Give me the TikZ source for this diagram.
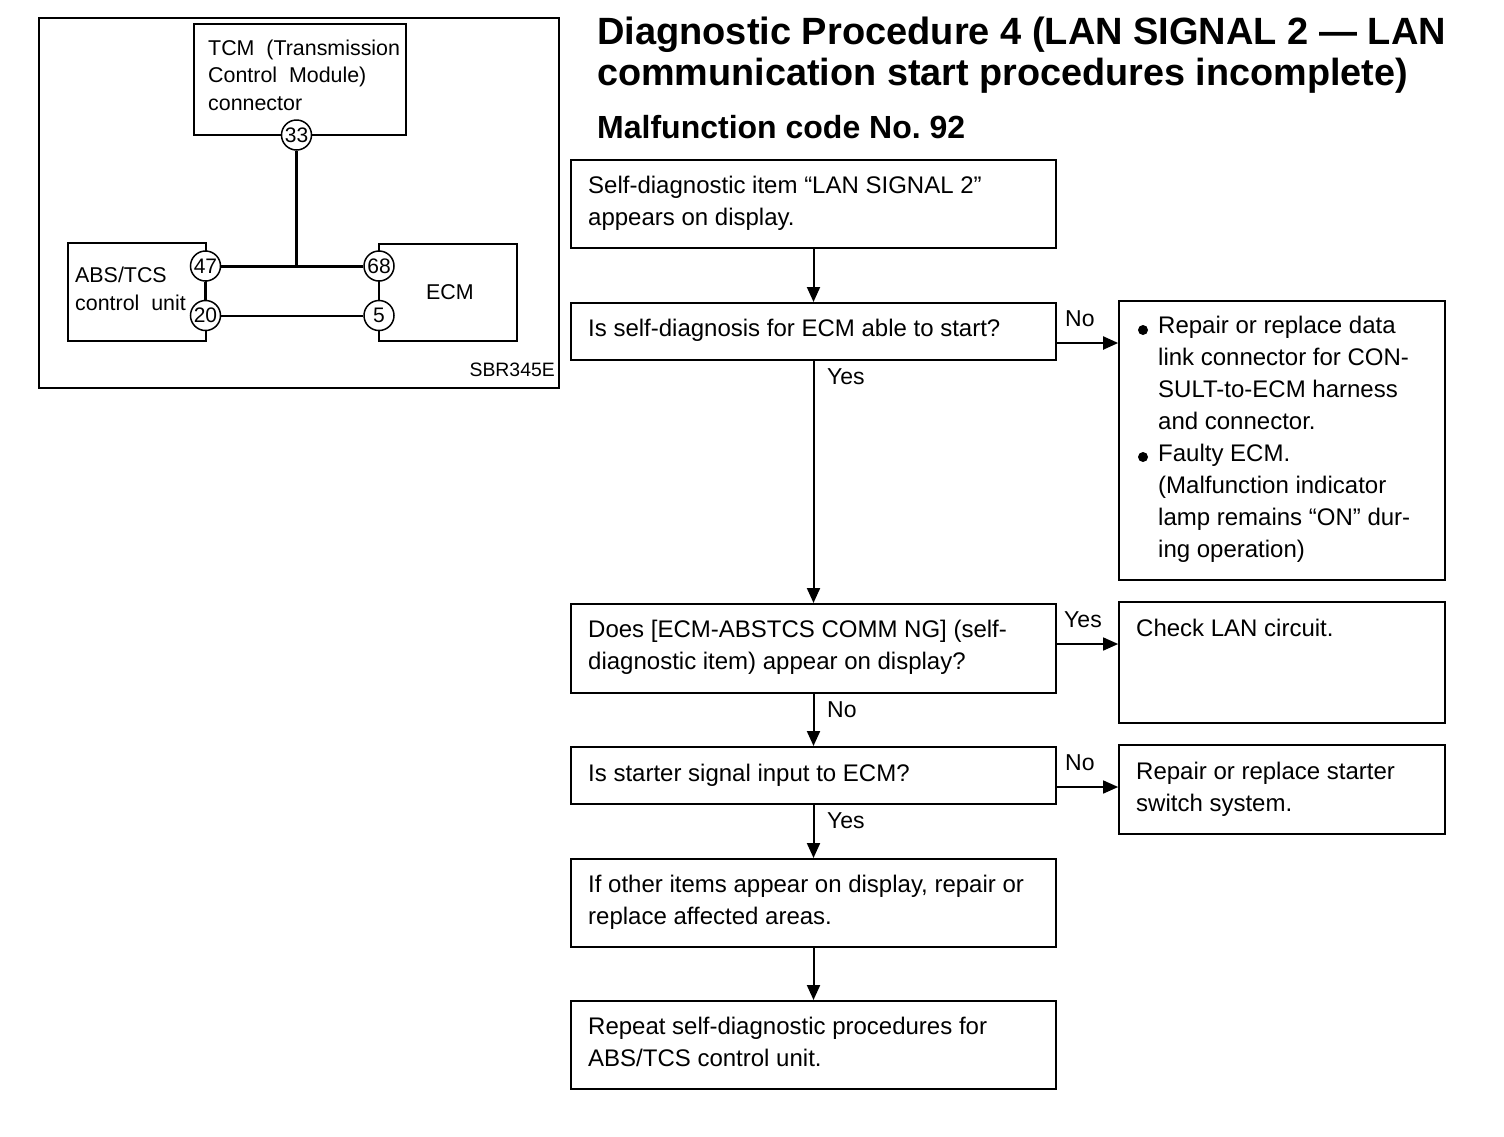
\documentclass[tikz,border=0pt]{standalone}
\usepackage{fontspec}
\setmainfont{Liberation Sans}
\usetikzlibrary{arrows.meta}
\newcommand{\fsz}[2]{\fontsize{#1}{#2}\selectfont}
\frenchspacing
\tikzset{
  x=1pt,y=-1pt,
  fbox/.style={draw=black,line width=2pt,fill=white,inner sep=0pt},
  sbox/.style={draw=black,line width=1.7pt,inner sep=0pt},
  flowtext/.style={anchor=west,inner sep=0pt,align=left,font=\fsz{24}{32}},
  difftext/.style={anchor=west,inner sep=0pt,align=left,font=\fsz{21.4}{27.5}},
  pin/.style={circle,draw=black,line width=1.5pt,fill=white,minimum size=30pt,inner sep=0pt,font=\fsz{21}{22}},
  edgelabel/.style={anchor=west,inner sep=0pt,font=\fsz{23}{26}},
  bulletdot/.style={circle,fill=black,minimum size=10pt,inner sep=0pt},
  flowarrow/.style={draw=black,line width=2pt,-{Triangle[length=15pt,width=13pt]}},
  thick wire/.style={draw=black,line width=3pt},
  thin wire/.style={draw=black,line width=2pt},
}
\newcommand{\flowbox}[6]{% name x1 y1 x2 y2 style
  \pgfmathsetmacro{\bw}{#4-#2}\pgfmathsetmacro{\bh}{#5-#3}
  \node[#6,minimum width=\bw pt,minimum height=\bh pt] (#1) at ({(#2+#4)/2},{(#3+#5)/2}) {};}
\begin{document}
\begin{tikzpicture}
\path[use as bounding box,fill=white] (0,0) rectangle (1504,1136);
% titles
\node[anchor=base west,inner sep=0pt,font=\fsz{38}{40}\bfseries] (title1) at (597,44) {Diagnostic Procedure 4 (LAN SIGNAL 2 — LAN};
\node[anchor=base west,inner sep=0pt,font=\fsz{37.8}{40}\bfseries] (title2) at (597,85) {communication start procedures incomplete)};
\node[anchor=base west,inner sep=0pt,font=\fsz{32}{34}\bfseries] (title3) at (597,138.5) {Malfunction code No. 92};
% left diagram
\flowbox{frame}{39}{18}{559}{388}{sbox}
\flowbox{tcm}{194}{24}{406}{135}{sbox}
\flowbox{abs}{68}{243}{206}{341}{sbox}
\flowbox{ecm}{379}{244}{517}{341}{sbox}
\node[difftext] (tcmt) at (208,75) {TCM\ \ (Transmission\\Control\ \ Module)\\connector};
\node[difftext] (abst) at (75,289) {ABS/TCS\\control\ \ unit};
\node[difftext] (ecmt) at (426,292) {ECM};
\node[anchor=east,inner sep=0pt,font=\fsz{19.4}{22}] (code) at (555,370) {SBR345E};
\node[pin] (p33) at (296.5,135) {33};
\node[pin] (p47) at (205.5,266) {47};
\node[pin] (p20) at (205.5,315.5) {20};
\node[pin] (p68) at (379,266) {68};
\node[pin] (p5) at (379,315.5) {5};
\coordinate (tee) at (296.5,266);
\draw[thick wire] (p47) -- (p68);
\draw[thick wire] (p47) -- (p20);
\draw[thin wire] (p68) -- (p5);
\draw[thin wire] (p20) -- (p5);
\draw[draw=black,line width=2.6pt] (p33) -- (tee);
% flow boxes
\flowbox{b1}{571}{160}{1056}{248}{fbox}
\flowbox{b2}{571}{303}{1056}{360}{fbox}
\flowbox{b3}{571}{604}{1056}{693}{fbox}
\flowbox{b4}{571}{747}{1056}{804}{fbox}
\flowbox{b5}{571}{859}{1056}{947}{fbox}
\flowbox{b6}{571}{1001}{1056}{1089}{fbox}
\flowbox{r1}{1119}{301}{1445}{580}{sbox}
\flowbox{r2}{1119}{602}{1445}{723}{sbox}
\flowbox{r3}{1119}{745}{1445}{834}{sbox}
\node[flowtext] (t1) at (588,203) {Self-diagnostic item “LAN SIGNAL 2”\\appears on display.};
\node[flowtext] (t2) at (588,330) {Is self-diagnosis for ECM able to start?};
\node[flowtext] (t3) at (588,647) {Does [ECM-ABSTCS COMM NG] (self-\\diagnostic item) appear on display?};
\node[flowtext] (t4) at (588,775) {Is starter signal input to ECM?};
\node[flowtext] (t5) at (588,902) {If other items appear on display, repair or\\replace affected areas.};
\node[flowtext] (t6) at (588,1042) {Repeat self-diagnostic procedures for\\ABS/TCS control unit.};
\node[flowtext] (t7) at (1158,439.5) {Repair or replace data\\link connector for CON-\\SULT-to-ECM harness\\and connector.\\Faulty ECM.\\(Malfunction indicator\\lamp remains “ON” dur-\\ing operation)};
\node[bulletdot] (d1) at (1143,330) {};
\node[bulletdot] (d2) at (1143,457) {};
\node[flowtext] (t8) at (1136,628) {Check LAN circuit.};
\node[flowtext] (t9) at (1136,789) {Repair or replace starter\\switch system.};
% connectors
\coordinate (o2) at (1056,343);
\coordinate (o3) at (1056,644);
\coordinate (o4) at (1056,787);
\draw[flowarrow] (b1) -- (b2);
\draw[flowarrow] (b2) -- (b3);
\draw[flowarrow] (b3) -- (b4);
\draw[flowarrow] (b4) -- (b5);
\draw[flowarrow] (b5) -- (b6);
\draw[flowarrow] (o2) -- (o2 -| r1.west);
\draw[flowarrow,line width=1.5pt] (o3) -- (o3 -| r2.west);
\draw[flowarrow,line width=1.5pt] (o4) -- (o4 -| r3.west);
% edge labels
\node[edgelabel] (l1) at (1065,319) {No};
\node[edgelabel] (l2) at (827,377) {Yes};
\node[edgelabel] (l3) at (1064,620) {Yes};
\node[edgelabel] (l4) at (827,710) {No};
\node[edgelabel] (l5) at (1065,763) {No};
\node[edgelabel] (l6) at (827,821) {Yes};
\end{tikzpicture}
\end{document}
